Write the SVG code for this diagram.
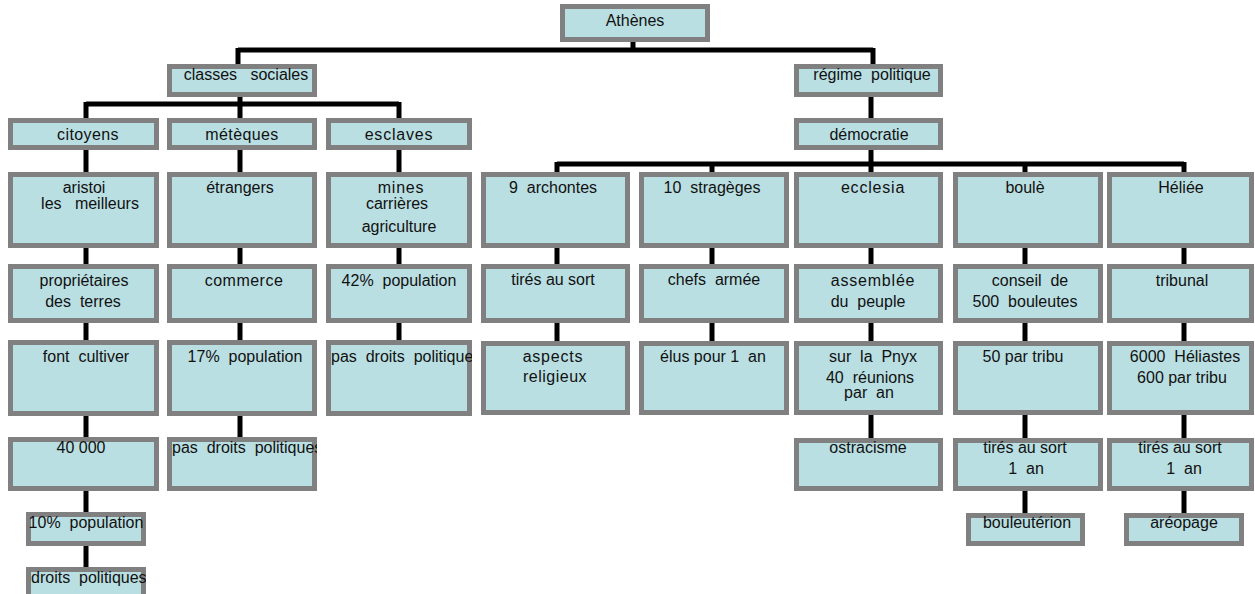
<svg xmlns="http://www.w3.org/2000/svg" width="1255" height="594" viewBox="0 0 1255 594">
<style>
.b{fill:#b9dfe2;stroke:#808080;stroke-width:5}
.t{font-family:"Liberation Sans",Arial,sans-serif;font-size:16px;fill:#111;text-anchor:middle}
.l{text-anchor:start}
.c{fill:none;stroke:#000;stroke-width:5}
</style>
<defs>
<clipPath id="cp1"><rect x="326" y="340" width="146" height="76"/></clipPath>
<clipPath id="cp2"><rect x="167" y="437" width="150" height="54"/></clipPath>
<clipPath id="cp3"><rect x="26" y="567" width="120" height="40"/></clipPath>
</defs>
<rect width="1255" height="594" fill="#fff"/>
<g id="connectors">
<path class="c" d="M633 42V50M238 50H873M238 48V64M873 48V64"/>
<path class="c" d="M240 97V118M86 104H399M86 102V118M399 102V118"/>
<path class="c" d="M871 97V118M871 150V172M557 164H1184M557 162V172M712 162V172M1025 162V172M1184 162V172"/>
<path class="c" d="M86 150V172M240 150V172M399 150V172M86 248V264M240 248V264M399 248V264M86 323V340M240 323V340M399 323V340M86 416V437M240 416V437M86 491V512M86 546V567"/>
<path class="c" d="M557 248V264M712 248V264M871 248V264M1025 248V264M1184 248V264M557 323V341M712 323V341M871 323V341M1025 323V341M1184 323V341M871 415V438M1025 415V438M1184 415V438M1025 491V513M1184 491V513"/>
</g>
<g id="athenes"><rect class="b" x="562.5" y="6.5" width="145" height="33"/><text class="t" x="635" y="26">Athènes</text></g>
<g id="classes"><rect class="b" x="169.5" y="66.5" width="145" height="28"/><text class="t" x="246" y="80" xml:space="preserve">classes   sociales</text></g>
<g id="regime"><rect class="b" x="796.5" y="66.5" width="144" height="28"/><text class="t" x="872" y="80" xml:space="preserve">régime  politique</text></g>
<g id="citoyens"><rect class="b" x="10.5" y="120.5" width="146" height="27"/><text class="t" x="88" y="140" letter-spacing="0.4">citoyens</text></g>
<g id="meteques"><rect class="b" x="169.5" y="120.5" width="145" height="27"/><text class="t" x="242" y="140" letter-spacing="0.4">métèques</text></g>
<g id="esclaves"><rect class="b" x="328.5" y="120.5" width="141" height="27"/><text class="t" x="399" y="140" letter-spacing="0.8">esclaves</text></g>
<g id="democratie"><rect class="b" x="796.5" y="120.5" width="144" height="27"/><text class="t" x="869" y="140">démocratie</text></g>
<g id="aristoi"><rect class="b" x="10.5" y="174.5" width="146" height="71"/><text class="t" x="84" y="193">aristoi</text><text class="t" x="90" y="209" xml:space="preserve">les   meilleurs</text></g>
<g id="etrangers"><rect class="b" x="169.5" y="174.5" width="145" height="71"/><text class="t" x="240" y="193">étrangers</text></g>
<g id="mines"><rect class="b" x="328.5" y="174.5" width="141" height="71"/><text class="t" x="401" y="193" letter-spacing="0.8">mines</text><text class="t" x="397" y="209">carrières</text><text class="t" x="399" y="232">agriculture</text></g>
<g id="archontes"><rect class="b" x="483.5" y="174.5" width="144" height="71"/><text class="t" x="553" y="193" xml:space="preserve">9  archontes</text></g>
<g id="strageges"><rect class="b" x="641.5" y="174.5" width="145" height="71"/><text class="t" x="712" y="193" xml:space="preserve">10  stragèges</text></g>
<g id="ecclesia"><rect class="b" x="796.5" y="174.5" width="144" height="71"/><text class="t" x="873" y="193" letter-spacing="0.8">ecclesia</text></g>
<g id="boule"><rect class="b" x="955.5" y="174.5" width="145" height="71"/><text class="t" x="1025" y="193">boulè</text></g>
<g id="heliee"><rect class="b" x="1109.5" y="174.5" width="142" height="71"/><text class="t" x="1181" y="193">Héliée</text></g>
<g id="proprietaires"><rect class="b" x="10.5" y="266.5" width="146" height="54"/><text class="t" x="84" y="286">propriétaires</text><text class="t" x="83" y="307" xml:space="preserve">des  terres</text></g>
<g id="commerce"><rect class="b" x="169.5" y="266.5" width="145" height="54"/><text class="t" x="244" y="286" letter-spacing="0.5">commerce</text></g>
<g id="pop42"><rect class="b" x="328.5" y="266.5" width="141" height="54"/><text class="t" x="399" y="286" xml:space="preserve">42%  population</text></g>
<g id="tires1"><rect class="b" x="483.5" y="266.5" width="144" height="54"/><text class="t" x="553" y="285">tirés au sort</text></g>
<g id="chefs"><rect class="b" x="641.5" y="266.5" width="145" height="54"/><text class="t" x="714" y="285" xml:space="preserve">chefs  armée</text></g>
<g id="assemblee"><rect class="b" x="796.5" y="266.5" width="144" height="54"/><text class="t" x="873" y="286" letter-spacing="0.8">assemblée</text><text class="t" x="868" y="307" xml:space="preserve">du  peuple</text></g>
<g id="conseil"><rect class="b" x="955.5" y="266.5" width="145" height="54"/><text class="t" x="1030" y="286" xml:space="preserve">conseil  de</text><text class="t" x="1025" y="307" xml:space="preserve">500  bouleutes</text></g>
<g id="tribunal"><rect class="b" x="1109.5" y="266.5" width="142" height="54"/><text class="t" x="1182" y="286">tribunal</text></g>
<g id="cultiver"><rect class="b" x="10.5" y="342.5" width="146" height="71"/><text class="t" x="86" y="362" xml:space="preserve">font  cultiver</text></g>
<g id="pop17"><rect class="b" x="169.5" y="342.5" width="145" height="71"/><text class="t" x="245" y="362" xml:space="preserve">17%  population</text></g>
<g id="pasdroits1"><rect class="b" x="328.5" y="342.5" width="141" height="71"/><text class="t l" x="331" y="362" clip-path="url(#cp1)" xml:space="preserve">pas  droits  politiques</text></g>
<g id="aspects"><rect class="b" x="483.5" y="343.5" width="144" height="69"/><text class="t" x="553" y="362" letter-spacing="0.8">aspects</text><text class="t" x="555" y="382" letter-spacing="0.5">religieux</text></g>
<g id="elus"><rect class="b" x="641.5" y="343.5" width="145" height="69"/><text class="t" x="713" y="362" xml:space="preserve">élus pour 1  an</text></g>
<g id="pnyx"><rect class="b" x="796.5" y="343.5" width="144" height="69"/><text class="t" x="873" y="362" xml:space="preserve">sur  la  Pnyx</text><text class="t" x="870" y="383" xml:space="preserve">40  réunions</text><text class="t" x="869" y="398" xml:space="preserve">par  an</text></g>
<g id="tribu50"><rect class="b" x="955.5" y="343.5" width="145" height="69"/><text class="t" x="1023" y="362">50 par tribu</text></g>
<g id="heliastes"><rect class="b" x="1109.5" y="343.5" width="142" height="69"/><text class="t" x="1185" y="362" xml:space="preserve">6000  Héliastes</text><text class="t" x="1182" y="383">600 par tribu</text></g>
<g id="n40000"><rect class="b" x="10.5" y="439.5" width="146" height="49"/><text class="t" x="81" y="453">40 000</text></g>
<g id="pasdroits2"><rect class="b" x="169.5" y="439.5" width="145" height="49"/><text class="t l" x="172" y="453" clip-path="url(#cp2)" xml:space="preserve">pas  droits  politiques</text></g>
<g id="ostracisme"><rect class="b" x="796.5" y="440.5" width="144" height="48"/><text class="t" x="868" y="453">ostracisme</text></g>
<g id="tires2"><rect class="b" x="955.5" y="440.5" width="145" height="48"/><text class="t" x="1025" y="453">tirés au sort</text><text class="t" x="1026" y="474" xml:space="preserve">1  an</text></g>
<g id="tires3"><rect class="b" x="1109.5" y="440.5" width="142" height="48"/><text class="t" x="1180" y="453">tirés au sort</text><text class="t" x="1184" y="474" xml:space="preserve">1  an</text></g>
<g id="pop10"><rect class="b" x="28.5" y="514.5" width="115" height="29"/><text class="t" x="86" y="528" xml:space="preserve">10%  population</text></g>
<g id="bouleuterion"><rect class="b" x="968.5" y="515.5" width="114" height="28"/><text class="t" x="1027" y="528">bouleutérion</text></g>
<g id="areopage"><rect class="b" x="1126.5" y="515.5" width="115" height="28"/><text class="t" x="1184" y="528">aréopage</text></g>
<g id="droits"><rect class="b" x="28.5" y="569.5" width="115" height="40"/><text class="t l" x="31" y="583" clip-path="url(#cp3)" xml:space="preserve">droits  politiques</text></g>
</svg>
